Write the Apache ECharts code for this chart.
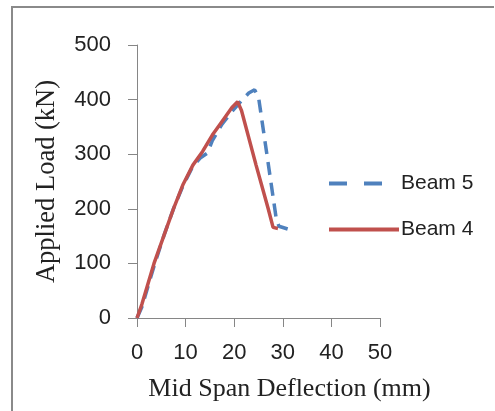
<!DOCTYPE html>
<html>
<head>
<meta charset="utf-8">
<script src="https://cdn.jsdelivr.net/npm/echarts@6/dist/echarts.min.js"></script>
<style>
html,body{margin:0;padding:0;background:#fff;}
#chart{width:495px;height:411px;}
</style>
</head>
<body>
<div id="chart"></div>
<script>
// Data
const seriesNames = ['Beam 5', 'Beam 4'];
const beam5 = [[0,0],[1,20],[2,50],[3.5,95],[5.5,150],[7.5,200],[9.5,243],[11.5,278],[13,293],[14.5,302],[15.5,325],[17.5,355],[19.5,378],[21.5,398],[23,412],[24.2,418],[25,405],[28.6,185],[29.2,168],[31,163]];
const beam4 = [[0,0],[1,25],[2,55],[3.5,100],[5.5,150],[7.5,200],[9.5,245],[11.5,280],[13.5,305],[15.5,335],[17.5,360],[19.5,385],[20.7,396],[21.5,380],[24.5,280],[27,200],[28,166],[29,164]];
const xTicks = [0,10,20,30,40,50];
const yTicks = [0,100,200,300,400,500];
const xTitle = 'Mid Span Deflection (mm)';
const yTitle = 'Applied Load (kN)';

const chart = echarts.init(document.getElementById('chart'), null, {renderer:'canvas'});
const axisColor = '#868686';
chart.setOption({
  animation:false,
  backgroundColor:'#fff',
  graphic:[{
    type:'polyline', silent:true,
    shape:{points:[[12,415],[12,7],[494,7]]},
    style:{stroke:'#8a8a8a', lineWidth:2, fill:null}
  }],
  grid:{left:137, right:115, top:45, bottom:93},
  legend:{
    orient:'vertical', left:322, top:168, itemWidth:70, itemHeight:12, itemGap:25,
    itemStyle:{opacity:0},
    textStyle:{fontFamily:'Liberation Sans', fontSize:21, color:'#222', padding:[0,0,0,-3]},
    data:[{name:'Beam 5', lineStyle:{type:[18,17], width:4}},{name:'Beam 4', lineStyle:{width:4}}]
  },
  xAxis:{
    type:'value', min:xTicks[0], max:xTicks[xTicks.length-1], interval:10,
    name:xTitle, nameLocation:'middle', nameGap:58,
    nameTextStyle:{fontFamily:'Liberation Serif', fontSize:26, color:'#222', padding:[0,0,0,62], verticalAlign:'top'},
    axisLine:{lineStyle:{color:axisColor}},
    axisTick:{length:9, lineStyle:{color:axisColor}},
    axisLabel:{fontFamily:'Liberation Sans', fontSize:22, color:'#222', margin:24},
    splitLine:{show:false}
  },
  yAxis:{
    type:'value', min:yTicks[0], max:yTicks[yTicks.length-1], interval:100,
    name:yTitle, nameLocation:'middle', nameGap:76,
    nameTextStyle:{fontFamily:'Liberation Serif', fontSize:26.5, color:'#222'},
    axisLine:{show:true, lineStyle:{color:axisColor}},
    axisTick:{show:true, length:9, lineStyle:{color:axisColor}},
    axisLabel:{fontFamily:'Liberation Sans', fontSize:22, color:'#222', margin:26},
    splitLine:{show:false}
  },
  series:[
    {name:seriesNames[0], type:'line', data:beam5, symbol:'none', z:2,
     lineStyle:{color:'#4F81BD', width:3.5, type:[13,8]}, itemStyle:{color:'#4F81BD'}},
    {name:seriesNames[1], type:'line', data:beam4, symbol:'none', z:3,
     lineStyle:{color:'#C0504D', width:3.5}, itemStyle:{color:'#C0504D'}}
  ]
});
</script>
</body>
</html>
